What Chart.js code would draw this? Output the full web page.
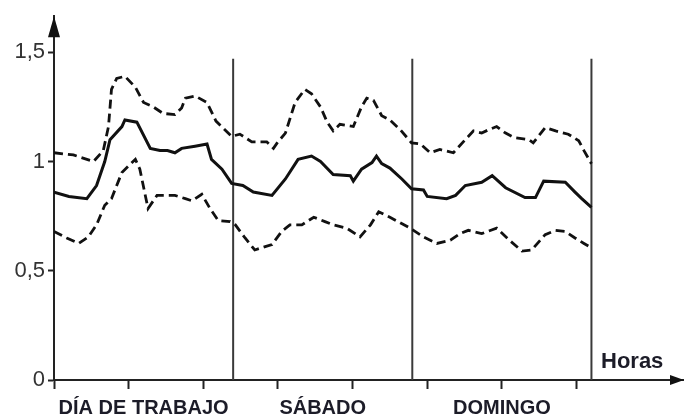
<!DOCTYPE html>
<html>
<head>
<meta charset="utf-8">
<script src="https://cdn.jsdelivr.net/npm/chart.js@4"></script>
<style>
  body { margin: 0; background: #fff; }
  #wrap { width: 684px; height: 419px; }
</style>
</head>
<body>
<div id="wrap"><canvas id="chart"></canvas></div>
<script>
// hours of the 3-day profile (0-72 h)
const meanHours = [0, 2, 4.4, 5.7, 6.8, 7.5, 9.1, 9.5, 11.1, 12.9, 14.2, 15.2, 16.2, 17.1, 18.9, 20.5, 21.1, 22.5, 23.8, 25.3, 26.7, 29.2, 31, 32.7, 34.5, 35.7, 37.4, 39.7, 40.1, 41.2, 42.6, 43.2, 43.9, 45, 46.6, 47.9, 49.5, 50, 52.6, 53.8, 55.1, 57.3, 58.7, 60.5, 63.1, 64.5, 65.6, 68.5, 69.8, 70.7, 72];
const meanValues = [0.86, 0.84, 0.83, 0.89, 1.0, 1.10, 1.16, 1.19, 1.18, 1.06, 1.05, 1.05, 1.04, 1.06, 1.07, 1.08, 1.01, 0.965, 0.90, 0.89, 0.86, 0.845, 0.92, 1.01, 1.025, 1.0, 0.94, 0.935, 0.91, 0.965, 0.995, 1.025, 0.99, 0.97, 0.92, 0.875, 0.87, 0.84, 0.83, 0.845, 0.89, 0.905, 0.935, 0.88, 0.835, 0.835, 0.91, 0.905, 0.86, 0.83, 0.79];

const upperHours = [0, 2.6, 5.3, 6.6, 7.3, 7.7, 8.4, 9.5, 10.9, 12, 13.3, 14.6, 16.2, 17.1, 17.6, 18.9, 20.5, 21.7, 23.8, 24.9, 26.5, 28.5, 29.4, 29.9, 31, 32.3, 33.6, 34.5, 35.7, 36.6, 37.4, 38.3, 40.1, 41.2, 41.9, 42.8, 43.9, 45, 46.4, 47.9, 49.1, 50.4, 51.7, 53.5, 55.1, 56.2, 57.3, 58.2, 59.3, 60.5, 61.6, 63.6, 64.2, 65.8, 67.2, 68.9, 70.3, 71, 72];
const upperValues = [1.04, 1.03, 1.0, 1.05, 1.16, 1.33, 1.38, 1.39, 1.34, 1.27, 1.25, 1.22, 1.215, 1.245, 1.29, 1.30, 1.27, 1.185, 1.115, 1.125, 1.09, 1.09, 1.06, 1.085, 1.13, 1.27, 1.33, 1.31, 1.25, 1.18, 1.14, 1.17, 1.16, 1.25, 1.29, 1.28, 1.21, 1.19, 1.145, 1.085, 1.08, 1.04, 1.055, 1.04, 1.10, 1.14, 1.13, 1.145, 1.16, 1.13, 1.11, 1.10, 1.085, 1.155, 1.14, 1.125, 1.095, 1.05, 0.99];

const lowerHours = [0, 1.7, 3.3, 4.6, 5.7, 6.8, 7.7, 9.1, 10.9, 11.5, 12.2, 12.6, 13.8, 16.2, 17.6, 18.5, 19.8, 20.9, 22, 23.6, 24.3, 25.6, 26.9, 29.2, 30.5, 31.6, 33.2, 34.8, 36.3, 37.4, 39.2, 41, 42.4, 43.5, 45, 47.7, 49.5, 51.3, 53.1, 54.4, 55.5, 57.3, 59.3, 61, 62.7, 64, 65.8, 67.2, 68.5, 69.8, 71, 72];
const lowerValues = [0.68, 0.65, 0.625, 0.655, 0.71, 0.80, 0.83, 0.95, 1.01, 0.965, 0.85, 0.785, 0.845, 0.845, 0.83, 0.82, 0.85, 0.785, 0.73, 0.725, 0.71, 0.65, 0.595, 0.62, 0.68, 0.71, 0.71, 0.745, 0.725, 0.71, 0.695, 0.655, 0.71, 0.77, 0.745, 0.695, 0.655, 0.625, 0.64, 0.67, 0.685, 0.67, 0.695, 0.64, 0.59, 0.595, 0.665, 0.685, 0.68, 0.65, 0.625, 0.605];

const dayLabels = ['DÍA DE TRABAJO', 'SÁBADO', 'DOMINGO'];
const dayEnds = [24, 48, 72];
const xTicks = [0, 10, 20, 30, 40, 50, 60, 70];
const yTicks = [0, 0.5, 1, 1.5];
const dividerTop = 1.47;

const toPoints = (xs, ys) => xs.map((x, i) => ({ x: x, y: ys[i] }));

Chart.defaults.font.family = '"Liberation Sans", Arial, sans-serif';

const dividers = dayEnds.map(h => ({
  data: [{ x: h, y: 0 }, { x: h, y: dividerTop }],
  borderColor: '#3a3a3a',
  borderWidth: 2,
  pointRadius: 0,
}));

// arrows + day names + "Horas"
const annotations = {
  id: 'annotations',
  afterDraw(chart) {
    const { ctx, chartArea, scales } = chart;
    const x0 = chartArea.left, y0 = chartArea.bottom;
    ctx.save();
    ctx.fillStyle = '#111';
    // y arrow
    ctx.beginPath();
    ctx.moveTo(x0, chartArea.top);
    ctx.lineTo(x0 - 6, chartArea.top + 21);
    ctx.lineTo(x0 + 6, chartArea.top + 21);
    ctx.closePath();
    ctx.fill();
    // x arrow
    ctx.beginPath();
    ctx.moveTo(chartArea.right, y0);
    ctx.lineTo(chartArea.right - 14, y0 - 5);
    ctx.lineTo(chartArea.right - 14, y0 + 5);
    ctx.closePath();
    ctx.fill();

    ctx.fillStyle = '#1c1c28';
    ctx.font = 'bold 20px "Liberation Sans", Arial, sans-serif';
    ctx.textAlign = 'center';
    ctx.textBaseline = 'alphabetic';
    dayLabels.forEach((label, i) => {
      const mid = scales.x.getPixelForValue(dayEnds[i] - 12);
      ctx.fillText(label, mid, y0 + 34);
    });
    ctx.font = 'bold 22px "Liberation Sans", Arial, sans-serif';
    ctx.textAlign = 'left';
    ctx.fillText('Horas', 601, y0 - 12);
    ctx.restore();
  }
};

new Chart(document.getElementById('chart'), {
  type: 'line',
  data: {
    datasets: [
      {
        data: toPoints(upperHours, upperValues),
        borderColor: '#111',
        borderWidth: 2.8,
        borderDash: [9, 5],
        pointRadius: 0,
      },
      {
        data: toPoints(meanHours, meanValues),
        borderColor: '#111',
        borderWidth: 3,
        pointRadius: 0,
      },
      {
        data: toPoints(lowerHours, lowerValues),
        borderColor: '#111',
        borderWidth: 2.8,
        borderDash: [9, 5],
        pointRadius: 0,
      },
      ...dividers,
    ],
  },
  options: {
    responsive: true,
    maintainAspectRatio: false,
    animation: false,
    layout: { padding: { top: 12, right: 0, left: 0, bottom: 0 } },
    plugins: { legend: { display: false }, tooltip: { enabled: false } },
    elements: { line: { tension: 0, borderCapStyle: 'butt' } },
    scales: {
      x: {
        type: 'linear',
        min: 0,
        max: 84.4,
        afterBuildTicks: s => { s.ticks = xTicks.map(v => ({ value: v })); },
        afterFit: s => { s.height = 39; },
        ticks: { display: false },
        grid: { drawOnChartArea: false, tickLength: 9, tickColor: '#222', tickWidth: 2 },
        border: { display: true, color: '#222', width: 2 },
      },
      y: {
        min: 0,
        max: 1.665,
        afterBuildTicks: s => { s.ticks = yTicks.map(v => ({ value: v })); },
        afterFit: s => { s.width = 54; },
        ticks: {
          color: '#333',
          font: { size: 22 },
          padding: 3,
          callback: v => String(v).replace('.', ','),
        },
        grid: { drawOnChartArea: false, tickLength: 6, tickColor: '#222', tickWidth: 2 },
        border: { display: true, color: '#222', width: 2 },
      },
    },
  },
  plugins: [annotations],
});
</script>
</body>
</html>
